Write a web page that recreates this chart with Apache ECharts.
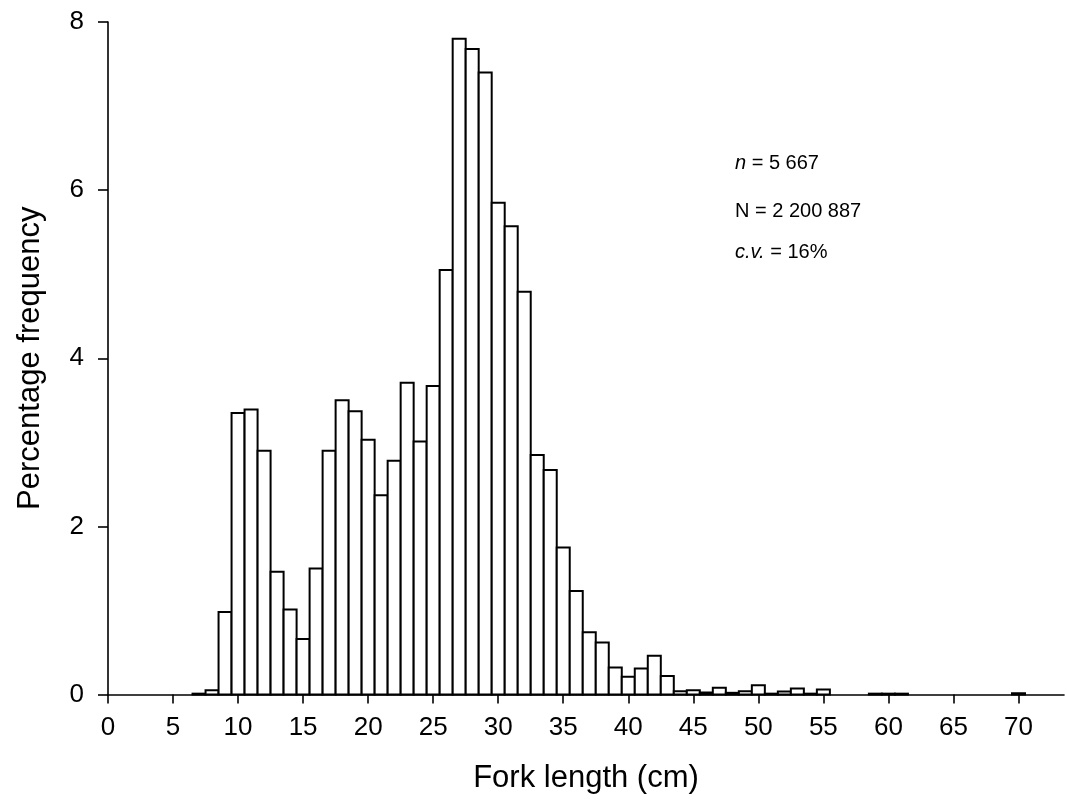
<!DOCTYPE html>
<html>
<head>
<meta charset="utf-8">
<script src="https://cdn.jsdelivr.net/npm/echarts@6/dist/echarts.min.js"></script>
<style>html,body{margin:0;padding:0;background:#fff}#c{width:1066px;height:801px}</style>
</head>
<body>
<div id="c"></div>
<script>
// Fork length class (cm) and percentage frequency
const lengths = [7,8,9,10,11,12,13,14,15,16,17,18,19,20,21,22,23,24,25,26,27,28,29,30,31,32,33,34,35,36,37,38,39,40,41,42,43,44,45,46,47,48,49,50,51,52,53,54,55,59,60,61,70];
const percent = [0.01,0.05,0.98,3.35,3.39,2.90,1.46,1.01,0.66,1.50,2.90,3.50,3.37,3.03,2.37,2.78,3.71,3.01,3.67,5.05,7.80,7.68,7.40,5.85,5.57,4.79,2.85,2.67,1.75,1.23,0.74,0.62,0.32,0.21,0.31,0.46,0.22,0.04,0.05,0.025,0.08,0.02,0.04,0.11,0.01,0.035,0.07,0.01,0.06,0.01,0.01,0.01,0.015];
const xTicks = [0,5,10,15,20,25,30,35,40,45,50,55,60,65,70];
const yTicks = [0,2,4,6,8];
const notes = ['{i|n} = 5 667', 'N = 2 200 887', '{i|c.v.} = 16%'];

const chart = echarts.init(document.getElementById('c'), null, {renderer:'canvas'});
const font = 'Liberation Sans, Arial, sans-serif';
const data = lengths.map((l,i)=>[l, percent[i]]);

chart.setOption({
  backgroundColor:'#fff',
  animation:false,
  grid:{left:108, right:2, top:22, bottom:106.5},
  xAxis:{
    type:'value', min:0, max:73.5,
    name:'Fork length (cm)', nameLocation:'middle', nameGap:68,
    nameTextStyle:{fontFamily:font, fontSize:31, color:'#000'},
    axisLine:{lineStyle:{color:'#000', width:1.6}},
    axisTick:{show:true, length:9, lineStyle:{color:'#000', width:1.6}, customValues:xTicks},
    axisLabel:{fontFamily:font, fontSize:26, color:'#000', margin:20, customValues:xTicks},
    splitLine:{show:false}
  },
  yAxis:{
    type:'value', min:0, max:8, interval:2,
    name:'Percentage frequency', nameLocation:'middle', nameGap:62,
    nameTextStyle:{fontFamily:font, fontSize:31, color:'#000'},
    axisLine:{show:true, lineStyle:{color:'#000', width:1.6}},
    axisTick:{show:true, length:10, lineStyle:{color:'#000', width:1.6}, customValues:yTicks},
    axisLabel:{fontFamily:font, fontSize:26, color:'#000', margin:24, customValues:yTicks},
    splitLine:{show:false}
  },
  series:[{
    type:'custom',
    data:data,
    encode:{x:0, y:1},
    renderItem:function(params, api){
      const x = api.value(0), y = api.value(1);
      const p0 = api.coord([x-0.5, 0]);
      const p1 = api.coord([x+0.5, y]);
      return {
        type:'rect',
        shape:{x:p0[0], y:p1[1], width:p1[0]-p0[0], height:p0[1]-p1[1]},
        style:{fill:'#fff', stroke:'#000', lineWidth:2}
      };
    }
  }],
  graphic: notes.map((t,i)=>({
    type:'text', x:735, y:[163,211,252][i],
    style:{text:t, fontFamily:font, fontSize:20, fill:'#000', verticalAlign:'middle',
      rich:{i:{fontStyle:'italic', fontFamily:font, fontSize:20, fill:'#000'}}}
  }))
});
</script>
</body>
</html>
